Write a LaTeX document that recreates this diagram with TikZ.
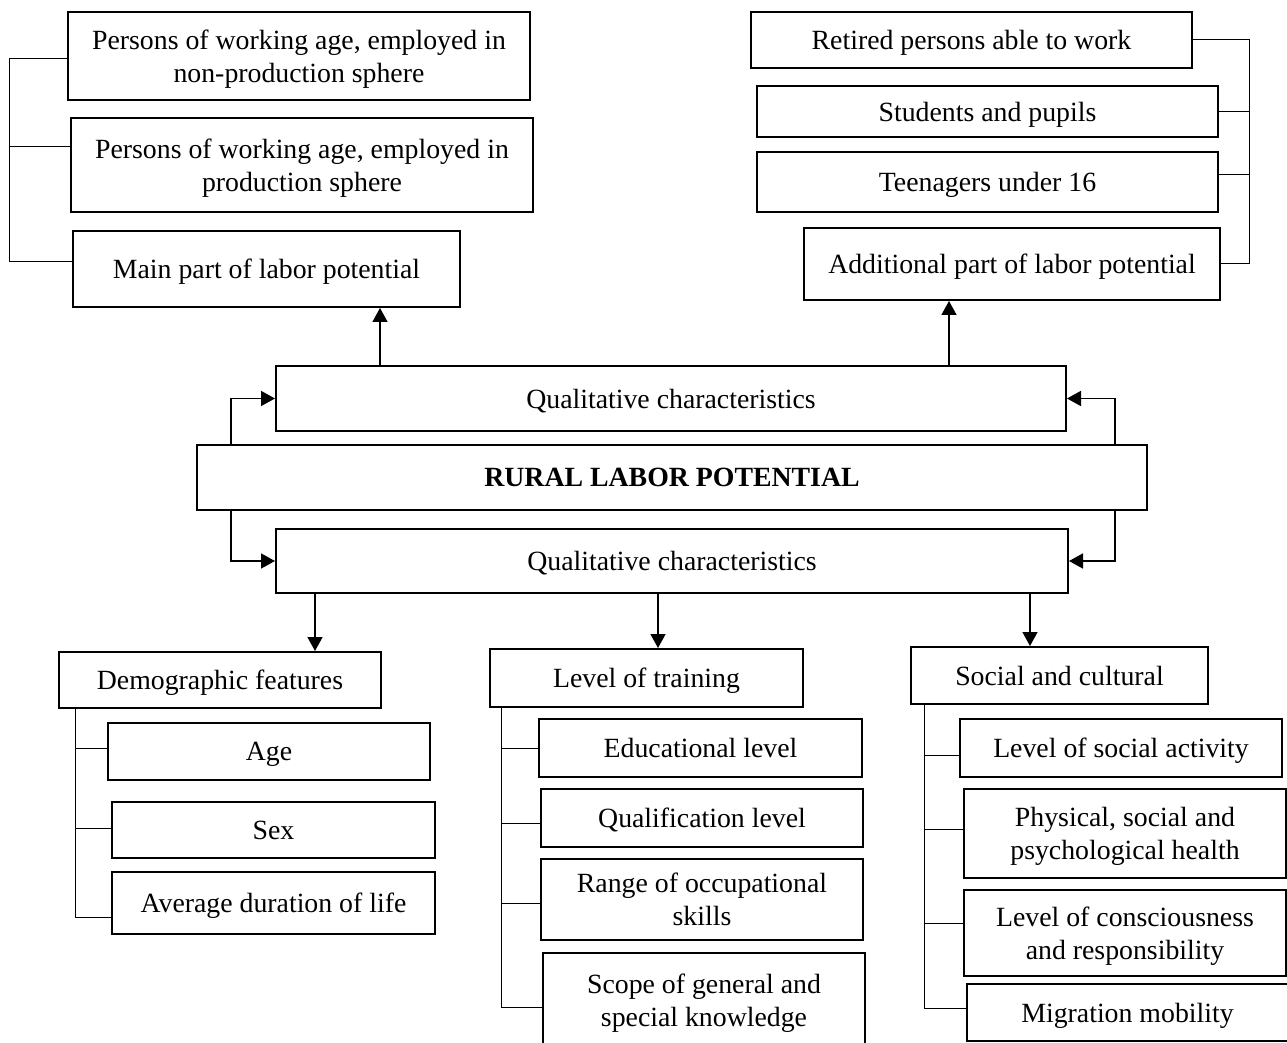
\documentclass[tikz,border=0pt]{standalone}
\usepackage{fontspec}
\setmainfont{Liberation Serif}
\usetikzlibrary{arrows.meta}

\begin{document}
\begin{tikzpicture}[x=0.5pt,y=-0.5pt,>={Triangle[length=7pt,width=7.5pt]},
  cell/.style={draw,line width=1pt,inner sep=0pt,align=center,text depth=0pt,font=\fontsize{13.9}{16.5}\selectfont},
  arr/.style={->,line width=0.8pt},
  tie/.style={line width=0.5pt}]
% pixel grid of the page: 1287 x 1043, y runs downwards
\useasboundingbox (0,0) rectangle (1287,1043);
\clip (0,0) rectangle (1287,1043);
% top left group
\node[cell,minimum width=231pt,minimum height=44pt] (B1) at (299,56) {Persons of working age, employed in\\non-production sphere};
\node[cell,minimum width=231pt,minimum height=47pt] (B2) at (302,165) {Persons of working age, employed in\\production sphere};
\node[cell,minimum width=193.5pt,minimum height=38pt] (B3) at (266.5,269) {Main part of labor potential};
% top right group
\node[cell,minimum width=220.5pt,minimum height=28pt] (R1) at (971.5,40) {Retired persons able to work};
\node[cell,minimum width=230.5pt,minimum height=25.5pt] (R2) at (987.5,111.5) {Students and pupils};
\node[cell,minimum width=230.5pt,minimum height=30pt] (R3) at (987.5,182) {Teenagers under 16};
\node[cell,minimum width=208pt,minimum height=36pt] (R4) at (1012,264) {Additional part of labor potential};
% centre
\node[cell,minimum width=395pt,minimum height=32.5pt] (Q1) at (671,398.5) {Qualitative characteristics};
\node[cell,minimum width=475pt,minimum height=32.5pt,font=\fontsize{13.9}{16.5}\selectfont\bfseries] (M) at (672,477.5) {RURAL LABOR POTENTIAL};
\node[cell,minimum width=396pt,minimum height=32pt] (Q2) at (672,561) {Qualitative characteristics};
% bottom columns
\node[cell,minimum width=161pt,minimum height=28pt] (D) at (220,680) {Demographic features};
\node[cell,minimum width=161pt,minimum height=28.5pt] (D1) at (269,751.5) {Age};
\node[cell,minimum width=161.5pt,minimum height=28pt] (D2) at (273.5,830) {Sex};
\node[cell,minimum width=161.5pt,minimum height=31pt] (D3) at (273.5,903) {Average duration of life};
\node[cell,minimum width=156.5pt,minimum height=29pt] (T) at (646.5,678) {Level of training};
\node[cell,minimum width=161.5pt,minimum height=29pt] (T1) at (700.5,748) {Educational level};
\node[cell,minimum width=161pt,minimum height=29pt] (T2) at (702,818) {Qualification level};
\node[cell,minimum width=161pt,minimum height=40.5pt] (T3) at (702,899.5) {Range of occupational\\skills};
\node[cell,minimum width=161pt,minimum height=47pt] (T4) at (704,1000) {Scope of general and\\special knowledge};
\node[cell,minimum width=148.5pt,minimum height=28.5pt] (S) at (1059.5,675.5) {Social and cultural};
\node[cell,minimum width=161pt,minimum height=29pt] (S1) at (1121,748) {Level of social activity};
\node[cell,minimum width=161pt,minimum height=44.5pt] (S2) at (1125,833.5) {Physical, social and\\psychological health};
\node[cell,minimum width=161pt,minimum height=43pt] (S3) at (1125,933) {Level of consciousness\\and responsibility};
\node[cell,minimum width=160.5pt,minimum height=28.5pt] (S4) at (1127.5,1012.5) {Migration mobility};
% arrows
\draw[arr] (Q1.north -| 380,0) -- (B3.south -| 380,0);
\draw[arr] (Q1.north -| 949,0) -- (R4.south -| 949,0);
\draw[arr] (M.north -| 231,0) |- (Q1.west);
\draw[arr] (M.south -| 231,0) |- (Q2.west);
\draw[arr] (M.north -| 1115,0) |- (Q1.east);
\draw[arr] (M.south -| 1115,0) |- (Q2.east);
\draw[arr] (Q2.south -| 315,0) -- (D.north -| 315,0);
\draw[arr] (Q2.south -| 658,0) -- (T.north -| 658,0);
\draw[arr] (Q2.south -| 1030,0) -- (S.north -| 1030,0);
% brackets
\draw[tie] (B1.west |- 0,59) -- (9,59) -- (9,262) -- (B3.west |- 0,262);
\draw[tie] (B2.west |- 0,147) -- (9,147);
\draw[tie] (R1.east) -- (1249,40) -- (1249,264) -- (R4.east);
\draw[tie] (R2.east) -- (1249,111.5);
\draw[tie] (R3.east |- 0,175) -- (1249,175);
\draw[tie] (D.south -| 75,0) -- (75,917) -- (D3.west |- 0,917);
\draw[tie] (D1.west |- 0,748) -- (75,748);
\draw[tie] (D2.west |- 0,828) -- (75,828);
\draw[tie] (T.south -| 501,0) -- (501,1007) -- (T4.west |- 0,1007);
\foreach \yy/\bx in {748/T1,823/T2,903/T3} \draw[tie] (\bx.west |- 0,\yy) -- (501,\yy);
\draw[tie] (S.south -| 924,0) -- (924,1008) -- (S4.west |- 0,1008);
\foreach \yy/\bx in {755/S1,829/S2,923/S3} \draw[tie] (\bx.west |- 0,\yy) -- (924,\yy);
\end{tikzpicture}
\end{document}
